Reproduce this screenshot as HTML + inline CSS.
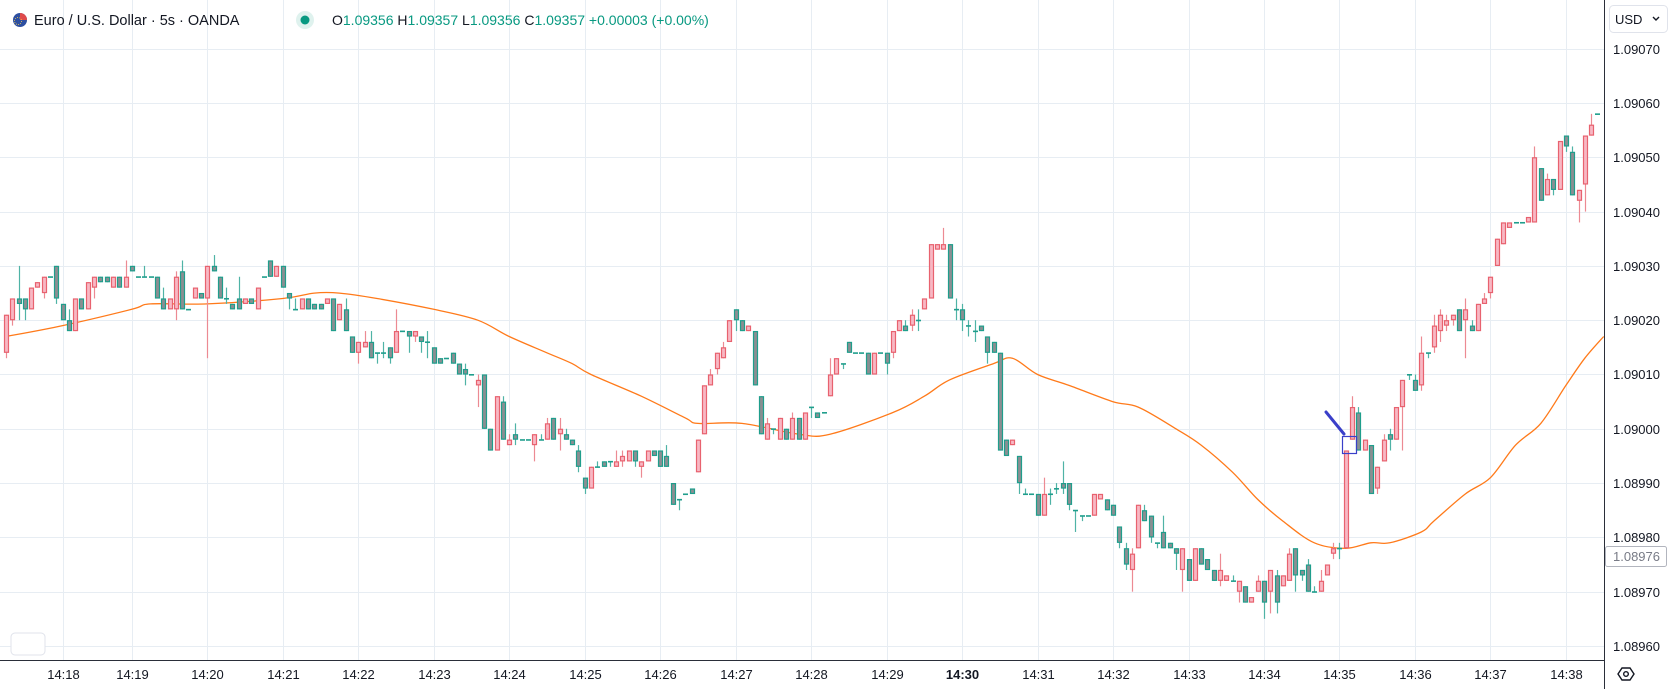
<!DOCTYPE html>
<html><head><meta charset="utf-8"><style>
html,body{margin:0;padding:0;background:#fff;}
svg{display:block;font-family:"Liberation Sans",sans-serif;}
</style></head><body>
<svg id="chart" width="1673" height="689" viewBox="0 0 1673 689" xmlns="http://www.w3.org/2000/svg">
<g id="grid"></g>
<g id="ma"></g>
<g id="candles"></g>
<g>
<line x1="1326" y1="412" x2="1344" y2="434" stroke="#3a3fc9" stroke-width="3" stroke-linecap="round"/>
<rect x="1342.5" y="436.5" width="14" height="17" fill="none" stroke="#3a3fc9" stroke-width="1.2"/>
</g>
<g>
<g><circle cx="20" cy="20" r="7" fill="#2d4fa0"/><path d="M20 13 A7 7 0 0 1 27 20 L20 20Z" fill="#e04b4b"/><circle cx="18" cy="21" r="3.5" fill="none" stroke="#ffd34d" stroke-width="0.8" stroke-dasharray="1 1.2"/></g>
<text x="34" y="25" font-size="14.5" fill="#131722">Euro / U.S. Dollar · 5s · OANDA</text>
<circle cx="305" cy="20" r="9" fill="#dff2ee"/><circle cx="305" cy="20" r="4.5" fill="#089981"/>
<text x="332" y="25" font-size="14" fill="#089981"><tspan fill="#131722">O</tspan>1.09356 <tspan fill="#131722">H</tspan>1.09357 <tspan fill="#131722">L</tspan>1.09356 <tspan fill="#131722">C</tspan>1.09357 +0.00003 (+0.00%)</text>
</g>
<rect x="11" y="633" width="34" height="22" rx="4" fill="#fff" stroke="#e0e3eb"/>
<line x1="0" y1="660.5" x2="1604" y2="660.5" stroke="#2a2e39" stroke-width="1"/>
<line x1="1604.5" y1="0" x2="1604.5" y2="689" stroke="#2a2e39" stroke-width="1"/>
<g id="yaxis"></g>
<g id="xaxis"></g>
<g>
<rect x="1609.5" y="5.5" width="58" height="27" rx="4" fill="#fff" stroke="#e0e3eb"/>
<text x="1615" y="24" font-size="13" fill="#131722">USD</text>
<path d="M1653 17 l3 3 l3 -3" fill="none" stroke="#131722" stroke-width="1.4"/>
</g>
<g>
<rect x="1605.5" y="546.5" width="61" height="20" rx="2" fill="#fff" stroke="#b2b5be"/>
<text x="1613" y="561" font-size="13" fill="#787b86">1.08976</text>
</g>
<g>
<path d="M1618 674 l4 -6 h8 l4 6 l-4 6 h-8z" fill="none" stroke="#131722" stroke-width="1.4"/>
<circle cx="1626" cy="674" r="2.3" fill="none" stroke="#131722" stroke-width="1.4"/>
</g>
</svg>
<script>
const opens=[1.09014,1.0902,1.09024,1.09024,1.09022,1.09026,1.09025,1.09028,1.0903,1.09023,1.0902,1.09018,1.09024,1.09022,1.09026,1.09028,1.09028,1.09026,1.09028,1.09026,1.0903,1.09028,1.09028,1.09028,1.09028,1.09024,1.09022,1.09022,1.09029,1.09022,1.09024,1.09025,1.09024,1.0903,1.09028,1.09024,1.09023,1.09024,1.09023,1.09024,1.09022,1.09028,1.09031,1.09028,1.0903,1.09025,1.09022,1.09022,1.09024,1.09023,1.09023,1.09023,1.09024,1.0902,1.09022,1.09017,1.09014,1.09015,1.09016,1.09014,1.09014,1.09015,1.09014,1.09018,1.09018,1.09017,1.09017,1.09016,1.09015,1.09013,1.09013,1.09014,1.09012,1.09011,1.0901,1.09008,1.0901,1.09,1.08996,1.09005,1.08997,1.08999,1.08998,1.08998,1.08997,1.08998,1.08998,1.09002,1.08999,1.08999,1.08998,1.08996,1.08991,1.08989,1.08993,1.08994,1.08994,1.08993,1.08994,1.08994,1.08996,1.08993,1.08994,1.08996,1.08996,1.08995,1.0899,1.08987,1.08988,1.08989,1.08992,1.08999,1.09008,1.09011,1.09013,1.09016,1.09022,1.0902,1.09018,1.09018,1.09006,1.08998,1.09,1.08998,1.09,1.08998,1.09002,1.08998,1.09004,1.09003,1.09003,1.09006,1.0901,1.09012,1.09016,1.09014,1.09014,1.09014,1.0901,1.09014,1.09014,1.09014,1.09018,1.09019,1.09019,1.0902,1.09022,1.09024,1.09033,1.09033,1.09034,1.09022,1.09022,1.09019,1.09018,1.09019,1.09017,1.09016,1.09014,1.08998,1.08997,1.08995,1.08988,1.08988,1.08988,1.08984,1.08988,1.08989,1.0899,1.0899,1.08985,1.08984,1.08984,1.08984,1.08987,1.08987,1.08986,1.08982,1.08978,1.08974,1.08978,1.08985,1.08984,1.08979,1.08981,1.08979,1.08978,1.08974,1.08976,1.08972,1.08978,1.08976,1.08974,1.08972,1.08972,1.08972,1.0897,1.08971,1.08968,1.0897,1.08972,1.0897,1.08973,1.08971,1.08972,1.08978,1.08974,1.08975,1.0897,1.0897,1.08973,1.08977,1.08978,1.08978,1.08998,1.09003,1.08996,1.08997,1.08989,1.08994,1.08999,1.08998,1.09004,1.0901,1.09009,1.09008,1.09014,1.09015,1.09018,1.09019,1.0902,1.09022,1.0902,1.09019,1.09018,1.09023,1.09025,1.0903,1.09034,1.09037,1.09038,1.09038,1.09038,1.09038,1.09048,1.09043,1.09046,1.09044,1.09054,1.09051,1.09042,1.09045,1.09054,1.09058];
const highs=[1.09021,1.09024,1.0903,1.09024,1.09026,1.09027,1.09028,1.09028,1.0903,1.09023,1.09022,1.09024,1.09024,1.09027,1.09028,1.09028,1.09028,1.09028,1.09028,1.09031,1.0903,1.09028,1.0903,1.09028,1.09028,1.09026,1.09024,1.09029,1.09031,1.09022,1.09026,1.09025,1.0903,1.09032,1.09028,1.09026,1.09023,1.09028,1.09024,1.09024,1.09026,1.09028,1.09031,1.0903,1.0903,1.09025,1.09024,1.09024,1.09024,1.09023,1.09023,1.09024,1.09024,1.09023,1.09024,1.09017,1.09016,1.09018,1.09018,1.09014,1.09016,1.09015,1.09022,1.09018,1.09018,1.09018,1.09017,1.09018,1.09015,1.09013,1.09013,1.09014,1.09012,1.09012,1.0901,1.0901,1.0901,1.09,1.09006,1.09006,1.08999,1.09001,1.08998,1.08998,1.08999,1.08999,1.09002,1.09002,1.09002,1.09,1.08998,1.08997,1.08991,1.08993,1.08994,1.08994,1.08994,1.08996,1.08996,1.08996,1.08996,1.08994,1.08996,1.08996,1.08996,1.08997,1.0899,1.08987,1.08988,1.08989,1.08998,1.09008,1.09011,1.09014,1.09016,1.0902,1.09022,1.0902,1.09019,1.09018,1.09006,1.09002,1.09,1.09002,1.09,1.09003,1.09002,1.09003,1.09004,1.09003,1.09003,1.09013,1.09013,1.09012,1.09016,1.09014,1.09014,1.09014,1.09014,1.09014,1.09014,1.09018,1.0902,1.0902,1.09022,1.09022,1.09024,1.09034,1.09034,1.09037,1.09034,1.09024,1.09023,1.0902,1.0902,1.09019,1.09017,1.09016,1.09014,1.08998,1.08998,1.08995,1.08989,1.08988,1.08988,1.08991,1.08989,1.0899,1.08994,1.0899,1.08985,1.08984,1.08984,1.08988,1.08988,1.08987,1.08986,1.08982,1.08979,1.08978,1.08986,1.08986,1.08984,1.08979,1.08984,1.08979,1.08978,1.08978,1.08976,1.08978,1.08978,1.08976,1.08974,1.08977,1.08973,1.08973,1.08972,1.08971,1.08969,1.08973,1.08972,1.08974,1.08974,1.08973,1.08978,1.08978,1.08974,1.08976,1.08971,1.08974,1.08975,1.08979,1.08979,1.08996,1.09006,1.09004,1.08998,1.08997,1.08993,1.08999,1.09,1.09004,1.09009,1.0901,1.0901,1.09017,1.09014,1.09021,1.09022,1.09021,1.09021,1.09022,1.09024,1.0902,1.09023,1.09025,1.09028,1.09035,1.09038,1.09038,1.09038,1.09038,1.09039,1.09052,1.09048,1.09047,1.09046,1.09053,1.09054,1.09052,1.09044,1.09054,1.09058,1.09058];
const lows=[1.09013,1.09019,1.0902,1.0902,1.09022,1.09026,1.09024,1.09028,1.09023,1.0902,1.09018,1.09018,1.09022,1.09022,1.09024,1.09027,1.09027,1.09026,1.09026,1.09026,1.09029,1.09028,1.09028,1.09028,1.09024,1.09022,1.09022,1.0902,1.09022,1.09022,1.09024,1.09024,1.09013,1.09029,1.09024,1.09023,1.09022,1.09022,1.09023,1.09023,1.09022,1.09028,1.09028,1.09028,1.09026,1.09022,1.09022,1.09022,1.09022,1.09022,1.09022,1.09023,1.09018,1.0902,1.09018,1.09014,1.09012,1.09015,1.09013,1.09012,1.09013,1.09012,1.09014,1.09018,1.09014,1.09016,1.09014,1.09013,1.09012,1.09012,1.09013,1.09012,1.0901,1.09008,1.0901,1.09004,1.09,1.08996,1.08996,1.08998,1.08997,1.08997,1.08998,1.08998,1.08994,1.08998,1.08998,1.08998,1.08996,1.08998,1.08997,1.08992,1.08988,1.08989,1.08993,1.08993,1.08993,1.08993,1.08993,1.08994,1.08993,1.08991,1.08994,1.08995,1.08993,1.08993,1.08986,1.08985,1.08988,1.08988,1.08992,1.08999,1.09008,1.0901,1.09013,1.09016,1.09018,1.09018,1.09018,1.09008,1.08999,1.08998,1.08999,1.08998,1.08998,1.08998,1.08998,1.08998,1.09002,1.09002,1.09003,1.09006,1.0901,1.09011,1.09014,1.09014,1.09014,1.0901,1.0901,1.09014,1.0901,1.09013,1.09018,1.09018,1.09018,1.09018,1.09022,1.09024,1.09033,1.09033,1.09024,1.0902,1.09018,1.09017,1.09016,1.09018,1.09012,1.09014,1.08996,1.08995,1.08997,1.08988,1.08988,1.08988,1.08984,1.08984,1.08986,1.08988,1.08988,1.08985,1.08981,1.08983,1.08984,1.08984,1.08987,1.08985,1.08984,1.08978,1.08974,1.0897,1.08978,1.08983,1.08979,1.08978,1.08978,1.08978,1.08974,1.0897,1.08972,1.08972,1.08975,1.08974,1.08972,1.08971,1.08972,1.08972,1.08968,1.08968,1.08968,1.0897,1.08965,1.08966,1.08966,1.08971,1.08972,1.0897,1.08972,1.0897,1.0897,1.0897,1.08973,1.08976,1.08976,1.08978,1.08998,1.08996,1.08996,1.08988,1.08988,1.08994,1.08996,1.08998,1.08996,1.09009,1.09007,1.09007,1.09013,1.09014,1.09016,1.09018,1.09019,1.09018,1.09013,1.09018,1.09018,1.09023,1.09024,1.0903,1.09034,1.09037,1.09038,1.09038,1.09038,1.09038,1.09042,1.09043,1.09043,1.09044,1.09051,1.09043,1.09038,1.0904,1.09054,1.09058];
const closes=[1.09021,1.09024,1.09023,1.09022,1.09026,1.09027,1.09028,1.09028,1.09024,1.0902,1.09018,1.09024,1.09022,1.09027,1.09028,1.09027,1.09027,1.09028,1.09026,1.09028,1.09029,1.09028,1.09028,1.09028,1.09024,1.09022,1.09024,1.09028,1.09022,1.09022,1.09026,1.09024,1.0903,1.09029,1.09024,1.09024,1.09022,1.09022,1.09024,1.09023,1.09026,1.09028,1.09028,1.0903,1.09026,1.09024,1.09022,1.09024,1.09022,1.09022,1.09022,1.09024,1.09018,1.09023,1.09018,1.09014,1.09016,1.09016,1.09013,1.09014,1.09014,1.09013,1.09018,1.09018,1.09017,1.09018,1.09016,1.09016,1.09012,1.09012,1.09013,1.09012,1.0901,1.0901,1.0901,1.09009,1.09,1.08996,1.09006,1.08998,1.08998,1.08998,1.08998,1.08998,1.08999,1.08998,1.09001,1.08998,1.09,1.08998,1.08997,1.08993,1.08989,1.08993,1.08993,1.08993,1.08994,1.08994,1.08995,1.08996,1.08994,1.08994,1.08996,1.08995,1.08993,1.08993,1.08986,1.08987,1.08988,1.08988,1.08998,1.09008,1.0901,1.09014,1.09015,1.0902,1.0902,1.09018,1.09019,1.09008,1.08999,1.09001,1.09,1.09002,1.08998,1.09002,1.08998,1.09003,1.09004,1.09002,1.09003,1.0901,1.09013,1.09012,1.09014,1.09014,1.09014,1.0901,1.09014,1.09014,1.09012,1.09018,1.0902,1.09018,1.09021,1.0902,1.09024,1.09034,1.09034,1.09034,1.09024,1.09022,1.0902,1.09019,1.09018,1.09018,1.09014,1.09014,1.08996,1.08995,1.08998,1.0899,1.08988,1.08988,1.08984,1.08988,1.08988,1.08989,1.08989,1.08986,1.08985,1.08984,1.08984,1.08988,1.08988,1.08985,1.08984,1.08979,1.08975,1.08977,1.08986,1.08983,1.0898,1.08979,1.08978,1.08978,1.08977,1.08978,1.08972,1.08978,1.08975,1.08974,1.08972,1.08974,1.08973,1.08972,1.08972,1.08968,1.08969,1.08972,1.08968,1.08974,1.08968,1.08973,1.08977,1.08973,1.08973,1.0897,1.0897,1.08972,1.08975,1.08978,1.08978,1.08996,1.09004,1.08996,1.08998,1.08988,1.08993,1.08998,1.08998,1.09004,1.09009,1.0901,1.09007,1.09014,1.09014,1.09019,1.09021,1.0902,1.09021,1.09018,1.09022,1.09018,1.09023,1.09024,1.09028,1.09035,1.09038,1.09038,1.09038,1.09038,1.09039,1.0905,1.09042,1.09046,1.09044,1.09053,1.09052,1.09043,1.09044,1.09054,1.09056,1.09058];
const maIndex=[0,9,20,23,32,44,49,53,59,68,75,80,86,90,93,101,108,110,117,126,131,141,146,150,157,160,164,169,176,180,186,190,195,199,203,208,213,217,220,225,227,232,236,240,244,248,251,254];
const maValues=[1.09017,1.09019,1.09022,1.09023,1.09023,1.09024,1.09025,1.09025,1.09024,1.09022,1.0902,1.09017,1.09014,1.09012,1.0901,1.09006,1.09002,1.09001,1.09001,1.08999,1.08999,1.09003,1.09006,1.09009,1.09012,1.09013,1.0901,1.09008,1.09005,1.09004,1.09,1.08997,1.08992,1.08987,1.08983,1.08979,1.08978,1.08979,1.08979,1.08981,1.08983,1.08988,1.08991,1.08997,1.09001,1.09008,1.09013,1.09017];
const priceTicks=[1.0907,1.0906,1.0905,1.0904,1.0903,1.0902,1.0901,1.09,1.0899,1.0898,1.0897,1.0896];
const timeTickIndex=[9,20,32,44,56,68,80,92,104,116,128,140,152,164,176,188,200,212,224,236,248];
const timeTickLabels=["14:18","14:19","14:20","14:21","14:22","14:23","14:24","14:25","14:26","14:27","14:28","14:29","14:30","14:31","14:32","14:33","14:34","14:35","14:36","14:37","14:38"];

const NS="http://www.w3.org/2000/svg";
function yOf(p){return 103+(1.0906-p)/0.0001*54.3;}
function xOf(i){return 6+i*6.29;}
function mk(tag,attrs,parent){const e=document.createElementNS(NS,tag);for(const k in attrs)e.setAttribute(k,attrs[k]);parent.appendChild(e);return e;}
const grid=document.getElementById('grid'),yaxis=document.getElementById('yaxis'),xaxis=document.getElementById('xaxis');
priceTicks.forEach((p,i)=>{
  const y=Math.round(yOf(p))+0.5;
  const l=mk('line',{x1:0,x2:1604,y1:y,y2:y,stroke:'#e7edf3','stroke-width':1},grid);
  
  
  const t=mk('text',{x:1613,y:y+4.5,'font-size':13,fill:'#131722'},yaxis);
  t.textContent=p.toFixed(5);
  
  
});
timeTickIndex.forEach((k,i)=>{
  const x=Math.round(xOf(k))+0.5;
  const l=mk('line',{x1:x,x2:x,y1:0,y2:660,stroke:'#e7edf3','stroke-width':1},grid);
  
  
  const t=mk('text',{x:x,y:679,'font-size':13,fill:'#131722','text-anchor':'middle'},xaxis);
  if(timeTickLabels[i]==='14:30')t.setAttribute('font-weight','bold');
  t.textContent=timeTickLabels[i];
  
  
});
const cg=document.getElementById('candles');
for(let i=0;i<opens.length;i++){
  const o=opens[i],h=highs[i],l=lows[i],c=closes[i];
  const up=c>o;
  const x=Math.round(xOf(i));
  const border=up?'#e8626f':'#1f9e8c';
  const fill=up?'#f7b8c4':'#8b8e92';
  const g=mk('g',{},cg);
  
  
  mk('line',{x1:x+0.5,x2:x+0.5,y1:yOf(h),y2:yOf(l),stroke:up?'#ec8a93':'#4fb3a6','stroke-width':1.2},g);
  const top=yOf(Math.max(o,c)),bot=yOf(Math.min(o,c));
  if(bot-top<1.5){
    mk('rect',{x:x-2,y:top-0.5,width:5,height:1.6,fill:border},g);
  } else {
    mk('rect',{x:x-1.5,y:top+0.5,width:4,height:bot-top-1,fill:fill,stroke:border,'stroke-width':1.2},g);
  }
}
const P=maIndex.map((k,i)=>[xOf(k),yOf(maValues[i])]);
let d='M'+P[0][0].toFixed(1)+' '+P[0][1].toFixed(1);
for(let i=0;i<P.length-1;i++){
  const p0=P[Math.max(0,i-1)],p1=P[i],p2=P[i+1],p3=P[Math.min(P.length-1,i+2)];
  const c1x=p1[0]+(p2[0]-p0[0])/6,c1y=p1[1]+(p2[1]-p0[1])/6;
  const c2x=p2[0]-(p3[0]-p1[0])/6,c2y=p2[1]-(p3[1]-p1[1])/6;
  d+=' C'+c1x.toFixed(1)+' '+c1y.toFixed(1)+' '+c2x.toFixed(1)+' '+c2y.toFixed(1)+' '+p2[0].toFixed(1)+' '+p2[1].toFixed(1);
}
const pl=mk('path',{d:d,fill:'none',stroke:'#ff7a1a','stroke-width':1.3},document.getElementById('ma'));


</script>
</body></html>
